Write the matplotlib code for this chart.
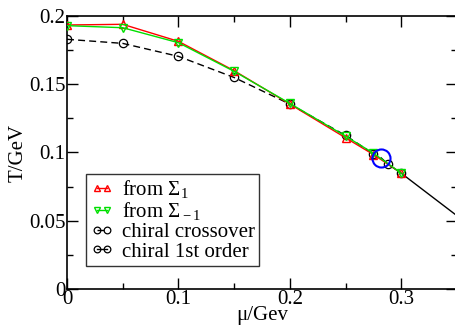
import matplotlib
matplotlib.use("Agg")
import matplotlib.pyplot as plt
from matplotlib.ticker import FixedLocator, MultipleLocator, FixedFormatter

plt.rcParams["font.family"] = ["Liberation Serif", "DejaVu Serif"]
plt.rcParams["mathtext.fontset"] = "custom"
plt.rcParams["mathtext.rm"] = "Liberation Serif"
plt.rcParams["mathtext.it"] = "Liberation Serif:italic"

# data
mu_sigma = [0.0, 0.05, 0.1, 0.15, 0.2, 0.25, 0.275, 0.3]
t_sigma_p1 = [0.1935, 0.1940, 0.1815, 0.1600, 0.1355, 0.1108, 0.0985, 0.0850]
t_sigma_m1 = [0.1930, 0.1915, 0.1805, 0.1595, 0.1360, 0.1120, 0.0995, 0.0848]

mu_cross = [0.0, 0.05, 0.1, 0.15, 0.2, 0.25, 0.275]
t_cross = [0.1830, 0.1800, 0.1705, 0.1550, 0.1355, 0.1125, 0.0990]

mu_first = [0.282, 0.288, 0.3, 0.4]
t_first = [0.0960, 0.0915, 0.0848, 0.0225]
first_markers = [1, 2]  # indices drawn with markers

mu_cep = [0.282]
t_cep = [0.0960]

x_ticks = [0.0, 0.1, 0.2, 0.3]
x_labels = ["0", "0.1", "0.2", "0.3"]
y_ticks = [0.0, 0.05, 0.1, 0.15, 0.2]
y_labels = ["0", "0.05", "0.1", "0.15", "0.2"]

fig = plt.figure(figsize=(4.56, 3.29), dpi=100)
ax = fig.add_axes([0.147, 0.122, 0.855, 0.829])

ms = 6
ax.plot(mu_sigma, t_sigma_p1, color="#ff0000", lw=1.0, marker="^", ms=ms,
        mfc="none", mew=1.0, label=r"from $\Sigma_{\rm 1}$", zorder=3)
ax.plot(mu_sigma, t_sigma_m1, color="#00e000", lw=1.0, marker="v", ms=ms,
        mfc="none", mew=1.0, label=r"from $\Sigma_{\rm -1}$", zorder=3)
ax.plot(mu_cross, t_cross, color="black", lw=1.0, ls=(0, (5, 3)), marker="o",
        ms=ms, mfc="none", mew=0.9, label="chiral crossover", zorder=2)
ax.plot(mu_first, t_first, color="black", lw=1.0, marker="o", ms=ms,
        mfc="none", mew=0.9, markevery=first_markers, label="chiral 1st order",
        zorder=2)
ax.plot(mu_cep, t_cep, ls="none", marker="o", ms=13, mfc="none",
        mec="#0000ff", mew=1.5, zorder=4)

ax.set_xlim(0, 0.35)
ax.set_ylim(0, 0.2)
ax.xaxis.set_major_locator(FixedLocator(x_ticks))
ax.xaxis.set_major_formatter(FixedFormatter(x_labels))
ax.yaxis.set_major_locator(FixedLocator(y_ticks))
ax.yaxis.set_major_formatter(FixedFormatter(y_labels))
ax.xaxis.set_minor_locator(MultipleLocator(0.05))
ax.yaxis.set_minor_locator(MultipleLocator(0.025))
ax.tick_params(which="both", direction="in", top=True, right=True,
               labelsize=15, width=1.0)
ax.tick_params(which="major", length=8, pad=1)
ax.tick_params(which="minor", length=4)
for s in ax.spines.values():
    s.set_linewidth(1.2)

ax.set_xlabel("μ/Gev", fontsize=15, labelpad=-2)
ax.set_ylabel("T/GeV", fontsize=15, labelpad=1)

leg = ax.legend(loc="lower left", bbox_to_anchor=(0.049, 0.085), numpoints=2,
                fontsize=15, frameon=True, fancybox=False, edgecolor="black",
                handlelength=1.1, handletextpad=0.4, labelspacing=0.0,
                borderpad=0.2, borderaxespad=0, markerscale=0.8)
leg.get_frame().set_linewidth(1.0)

fig.savefig("out.png", dpi=100)
